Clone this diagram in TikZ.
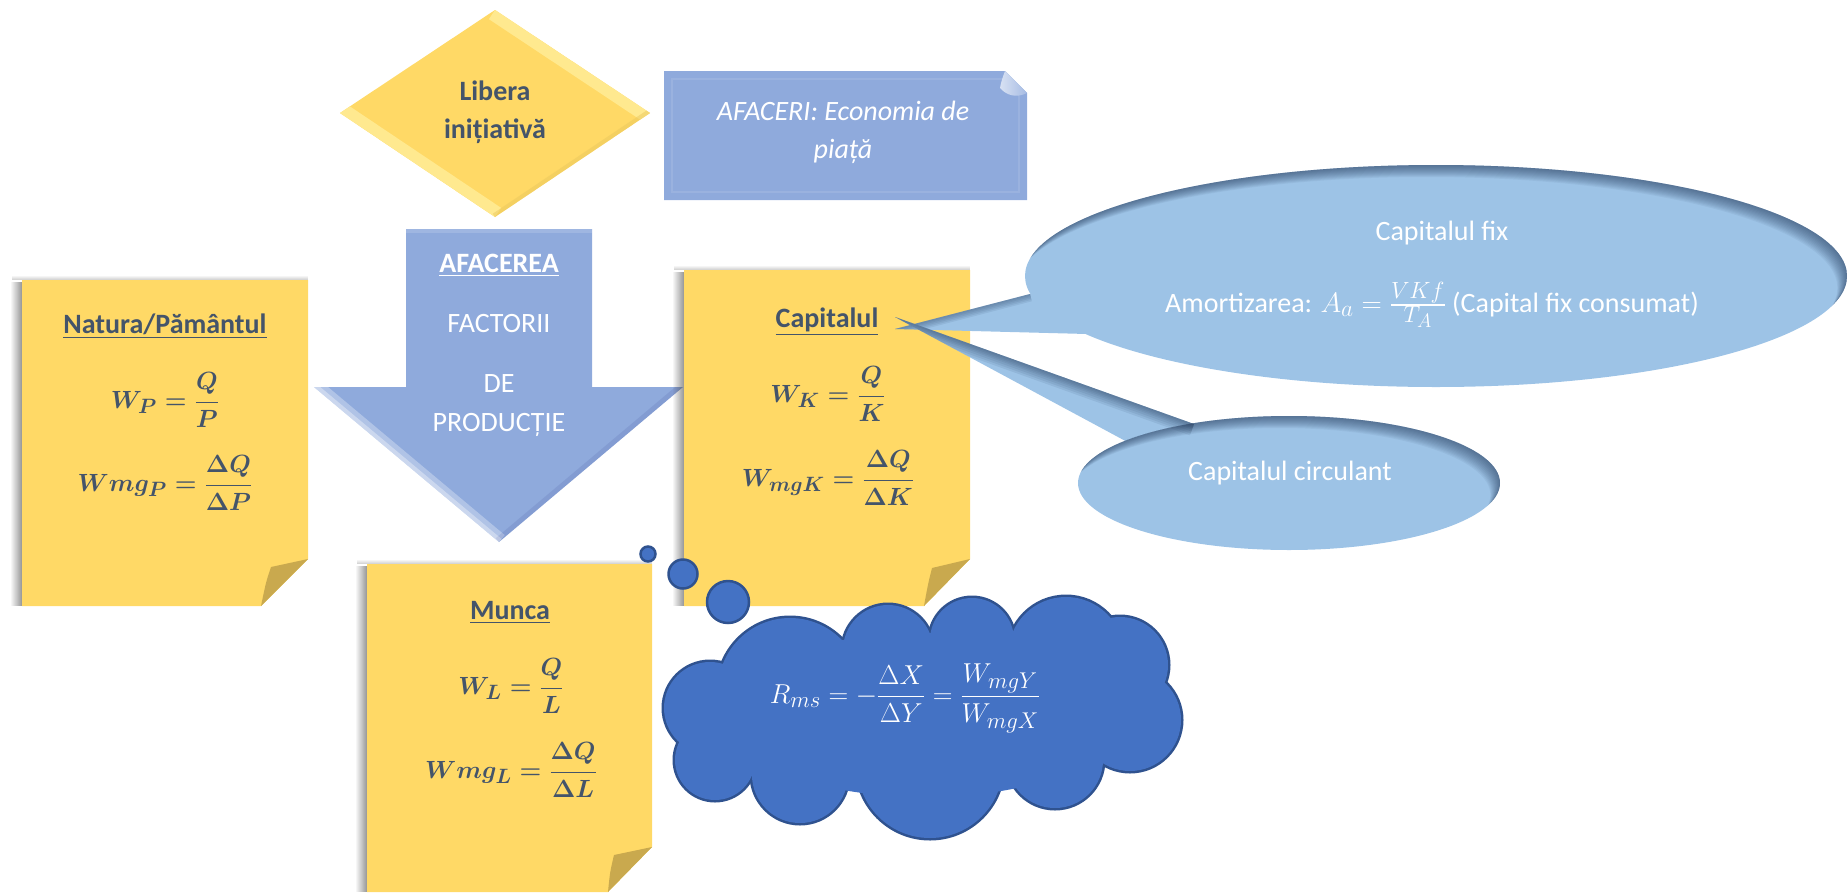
\documentclass[tikz,border=0pt]{standalone}
\usepackage{amsmath}
\usepackage{graphicx}
\usepackage{fontspec}
\setmainfont{Carlito}
\usetikzlibrary{fadings}

\definecolor{note}{HTML}{FFD966}
\definecolor{notefold}{HTML}{C9A94E}
\definecolor{slate}{HTML}{44546A}
\definecolor{arrowblue}{HTML}{8FAADC}
\definecolor{ellblue}{HTML}{9DC3E6}
\definecolor{cloudblue}{HTML}{4472C4}
\definecolor{cloudedge}{HTML}{2F528F}
\definecolor{diamondlight}{HTML}{FFE98F}
\definecolor{shadowblue}{HTML}{1F3556}

\newcommand{\bigmath}[2]{\scalebox{#1}{\fontsize{24.88}{30}\selectfont #2}}

\tikzset{
  txt/.style={font=\fontsize{28}{37}\selectfont, align=center, inner sep=0pt},
  darktxt/.style={txt, text=slate},
  whitetxt/.style={txt, text=white},
  boldtxt/.style={font=\fontsize{28}{37}\selectfont\bfseries},
  notebody/.style={fill=note},
  notefoldst/.style={fill=notefold},
  noteshadow/.style={fill=black!70, path fading=west, opacity=0.6},
  notetopshadow/.style={fill=black!40, path fading=north, opacity=0.5},
  bubble/.style={circle, fill=cloudblue, draw=cloudedge, line width=2.5pt, inner sep=0pt},
  calloutfill/.style={fill=ellblue},
  innershadow/.style={fill=shadowblue, opacity=0.06, even odd rule},
  wedgeshadow/.style={shadowblue, opacity=0.09},
}

\begin{document}
\begin{tikzpicture}[x=1pt,y=-1pt]
\useasboundingbox (0,0) rectangle (1848,892);

% ---------- Diamond: Libera initiativa ----------
\coordinate (dT) at (495,10);
\coordinate (dR) at (650,113);
\coordinate (dB) at (495,217);
\coordinate (dL) at (340,113);
\fill[note] (dT) -- (dR) -- (dB) -- (dL) -- cycle;
\begin{scope}
  \clip (dT) -- (dR) -- (dB) -- (dL) -- cycle;
  \draw[diamondlight, line width=22pt] (dT) -- (dR);
  \draw[diamondlight, line width=22pt] (dL) -- (dB);
  \draw[note!92!black, line width=8pt, opacity=0.5] (dR) -- (dB);
\end{scope}
\node[darktxt, boldtxt, anchor=base] (lib1) at (495,100) {Libera};
\node[darktxt, boldtxt, anchor=base] (lib2) at (495,138) {inițiativă};

% ---------- AFACERI rectangle ----------
\fill[arrowblue] (664,71) -- (1005,71) -- (1027,93) -- (1027,200) -- (664,200) -- cycle;
\draw[white, opacity=0.1, line width=2pt] (672,79) rectangle (1019,192);
\shade[left color=arrowblue!35!white, right color=arrowblue!80!white]
  (1005,71) -- (1027,93) .. controls (1017,98) and (1007,96) .. (1000,88)
  .. controls (1001,82) and (1003,76) .. cycle;
\node[whitetxt, font=\fontsize{28}{37}\selectfont\itshape, anchor=base] (af1) at (843,120) {AFACERI: Economia de};
\node[whitetxt, font=\fontsize{28}{37}\selectfont\itshape, anchor=base] (af2) at (843,158) {piață};

% ---------- Big down arrow ----------
\coordinate (aTL) at (406,229);
\coordinate (aTR) at (592,229);
\coordinate (aL) at (314,387);
\coordinate (aR) at (683,387);
\coordinate (aTip) at (499,542);
\fill[arrowblue] (aTL) -- (aTR) -- (592,387) -- (aR) -- (aTip) -- (aL) -- (406,387) -- cycle;
\begin{scope}
  \clip (aTL) -- (aTR) -- (592,387) -- (aR) -- (aTip) -- (aL) -- (406,387) -- cycle;
  \draw[white, opacity=0.3, line width=18pt] (aL) -- (aTip);
  \draw[white, opacity=0.35, line width=8pt] (aL) -- (aTip);
  \draw[white, opacity=0.15, line width=8pt] (aTL) -- (aTR);
  \draw[black!60!blue, opacity=0.08, line width=10pt] (aTip) -- (aR);
\end{scope}
\node[whitetxt, boldtxt, anchor=base] (afacerea) at (499,272) {\underline{AFACEREA}};
\node[whitetxt, anchor=base] (factorii) at (499,332) {FACTORII};
\node[whitetxt, anchor=base] (de) at (499,392) {DE};
\node[whitetxt, anchor=base] (productie) at (499,431) {PRODUCȚIE};

% ---------- Note: Natura/Pamantul ----------
\fill[notetopshadow] (12,275) rectangle (308,280);
\fill[noteshadow] (10,282) rectangle (22,606);
\fill[notebody] (22,280) -- (308,280) -- (308,559) -- (261,606) -- (22,606) -- cycle;
\fill[notefoldst] (308,559) -- (271,567) .. controls (266,582) .. (261,606) -- cycle;
\node[darktxt, boldtxt, anchor=base] (natura) at (165,333) {\underline{Natura/Pământul}};
\node[darktxt] (wp) at (165,400) {\bigmath{1.0}{\boldmath$\displaystyle W_P=\frac{Q}{P}$}};
\node[darktxt] (wmgp) at (165,483) {\bigmath{1.0}{\boldmath$\displaystyle Wmg_P=\frac{\Delta Q}{\Delta P}$}};

% ---------- Note: Munca ----------
\fill[notetopshadow] (357,559) rectangle (652,564);
\fill[noteshadow] (355,566) rectangle (367,892);
\fill[notebody] (367,564) -- (652,564) -- (652,847) -- (608,892) -- (367,892) -- cycle;
\fill[notefoldst] (652,847) -- (614,855) .. controls (610,872) .. (608,892) -- cycle;
\node[darktxt, boldtxt, anchor=base] (munca) at (510,619) {\underline{Munca}};
\node[darktxt] (wl) at (511,686) {\bigmath{1.0}{\boldmath$\displaystyle W_L=\frac{Q}{L}$}};
\node[darktxt] (wmgl) at (511,770) {\bigmath{1.0}{\boldmath$\displaystyle Wmg_L=\frac{\Delta Q}{\Delta L}$}};

% ---------- Note: Capitalul ----------
\fill[notetopshadow] (674,265) rectangle (970,270);
\fill[noteshadow] (672,272) rectangle (684,606);
\fill[notebody] (684,270) -- (970,270) -- (970,559) -- (924,606) -- (684,606) -- cycle;
\fill[notefoldst] (970,559) -- (932,568) .. controls (928,584) .. (924,606) -- cycle;
\node[darktxt, boldtxt, anchor=base] (capitalul) at (827,327) {\underline{Capitalul}};
\node[darktxt] (wk) at (828,394) {\bigmath{1.0}{\boldmath$\displaystyle W_K=\frac{Q}{K}$}};
\node[darktxt] (wmgk) at (828,478) {\bigmath{1.0}{\boldmath$\displaystyle W_{mgK}=\frac{\Delta Q}{\Delta K}$}};

% ---------- Callout: Capitalul fix ----------
\coordinate (tipA) at (895,329);
\coordinate (tipB) at (895,317);
\fill[calloutfill] (1436,276) ellipse [x radius=411pt, y radius=111pt];
\fill[calloutfill] (tipA) -- (1030,294) -- (1120,300) -- (1087,334) -- cycle;
\begin{scope}
  \clip (1436,276) ellipse [x radius=411pt, y radius=111pt];
  \foreach \d in {1,2,...,12}
    \fill[innershadow] (0,0) rectangle (1848,892) ({1436-0.8*\d},{276+\d}) ellipse [x radius=411pt, y radius=111pt];
\end{scope}
\begin{scope}
  \clip (tipA) -- (1030,294) -- (1120,300) -- (1087,334) -- cycle;
  \foreach \w in {3,6,9,12,15}
    \draw[wedgeshadow, line width=\w pt] (tipA) -- (1030,294);
\end{scope}
\node[whitetxt, anchor=base] (capfix) at (1442,240) {Capitalul fix};
\node[whitetxt, anchor=base] (amort) at (1432,312) {Amortizarea: \bigmath{1.13}{$A_a=\frac{VKf}{T_A}$} (Capital fix consumat)};

% ---------- Callout: Capitalul circulant ----------
\fill[calloutfill] (1289,483) ellipse [x radius=211pt, y radius=67pt];
\fill[calloutfill] (tipB) -- (1194,424) -- (1200,470) -- (1131,444) -- cycle;
\begin{scope}
  \clip (1289,483) ellipse [x radius=211pt, y radius=67pt];
  \foreach \d in {1,2,...,12}
    \fill[innershadow] (0,0) rectangle (1848,892) ({1289-0.8*\d},{483+\d}) ellipse [x radius=211pt, y radius=67pt];
\end{scope}
\begin{scope}
  \clip (tipB) -- (1194,424) -- (1200,470) -- (1131,444) -- cycle;
  \foreach \w in {3,6,9,12,16,20,24}
    \draw[wedgeshadow, line width=\w pt] (tipB) -- (1194,424);
\end{scope}
\node[whitetxt, anchor=base] (capcirc) at (1290,480) {Capitalul circulant};

% ---------- Thought bubbles ----------
\node[bubble, minimum size=15pt] (b1) at (648,554) {};
\node[bubble, minimum size=29pt] (b2) at (683,574) {};
\node[bubble, minimum size=42pt] (b3) at (728,602) {};

% ---------- Cloud ----------
\def\puffs{790/690/72, 888/650/45, 972/640/42, 1066/655/58, 1120/665/48, 1130/720/51, 1055/760/48, 930/765/73, 800/775/48, 715/760/40, 710/708/46}
\foreach \cx/\cy/\r in \puffs
  \draw[cloudedge, line width=5pt] (\cx,\cy) circle [radius=\r pt];
\foreach \cx/\cy/\r in \puffs
  \fill[cloudblue] (\cx,\cy) circle [radius=\r pt];
\fill[cloudblue] (925,715) ellipse [x radius=202pt, y radius=82pt];
\node[whitetxt] (rms) at (905,698)
  {\bigmath{1.1}{$\displaystyle R_{ms}=-\frac{\Delta X}{\Delta Y}=\frac{W_{mgY}}{W_{mgX}}$}};

\end{tikzpicture}
\end{document}
